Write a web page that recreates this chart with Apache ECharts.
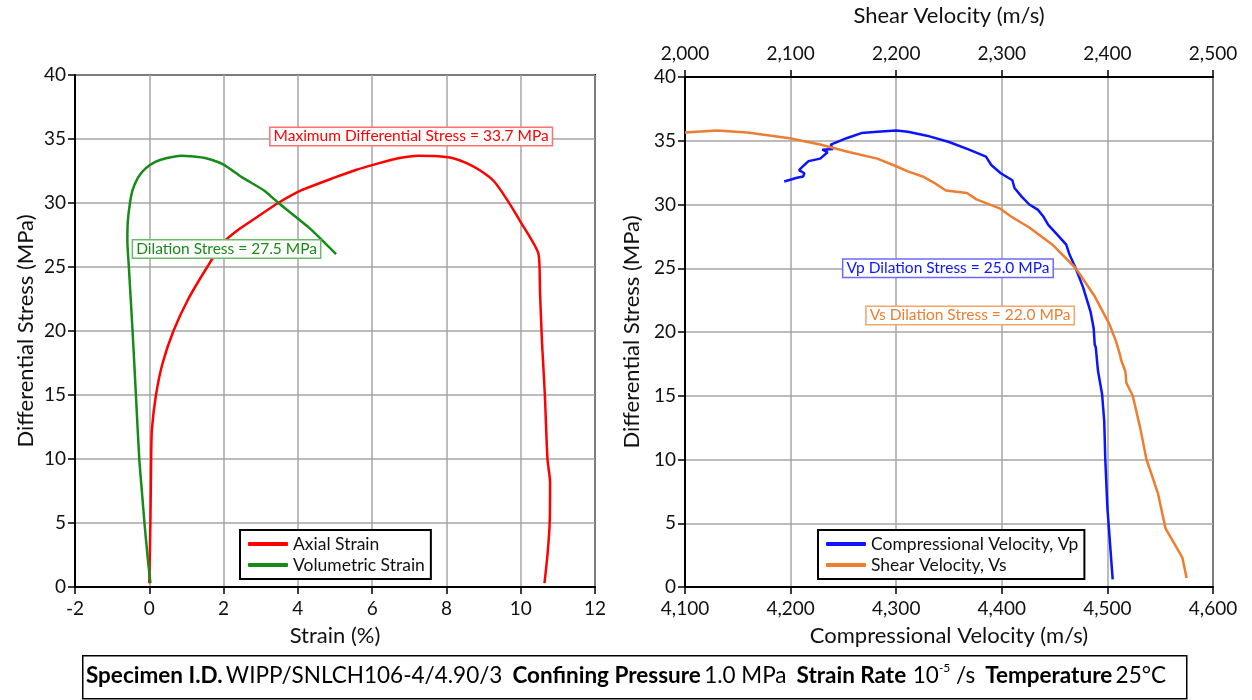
<!DOCTYPE html>
<html><head><meta charset="utf-8">
<script src="https://cdn.jsdelivr.net/npm/echarts@6/dist/echarts.min.js"></script>
<style>html,body{margin:0;padding:0;background:#fff}#c{width:1252px;height:700px}</style>
</head><body><div id="c"></div>
<script>
// ---- Left chart: strain vs differential stress ----
const strainTicks = [-2, 0, 2, 4, 6, 8, 10, 12];
const axialStrain = [0.00,0.03,0.05,0.07,0.18,0.36,0.65,1.05,1.56,1.99,2.44,2.95,3.47,4.10,5.00,5.58,6.05,6.70,7.26,7.69,8.18,8.56,8.93,9.28,9.60,10.00,10.48,10.52,10.57,10.60,10.65,10.72,10.79,10.78,10.72,10.64];
const axialStress = [0.3,5,10,12.3,15,17.5,20,22.5,25,26.9,28,29,30,31,32,32.6,33,33.5,33.7,33.67,33.5,33.1,32.5,31.7,30.4,28.5,26,23,19.3,17.7,15,10,8.2,5,2.5,0.3];
const volStrain = [0.03,-0.05,-0.13,-0.20,-0.27,-0.36,-0.45,-0.55,-0.59,-0.58,-0.52,-0.45,-0.30,-0.10,0.15,0.45,0.86,1.53,2.00,2.50,3.08,3.48,4.33,5.03];
const volStress = [0.3,2.5,5,7.5,10,15,20,25,27,28.5,30,31,32,32.7,33.2,33.5,33.7,33.5,33,32,31,30,28,26];

// ---- Right chart: velocities vs differential stress ----
const vpVelocity = [4194,4206,4212,4213,4208,4213,4217,4228,4235,4230,4240,4238,4253,4267,4282,4300,4311,4329,4350,4369,4385,4390,4399,4410,4412,4419,4426,4434,4439,4444,4454,4461,4464,4470,4477,4484,4487,4488,4489,4491,4495,4497,4498,4500,4505];
const vpStress = [31.8,32.1,32.2,32.45,32.7,33.1,33.4,33.6,34.1,34.3,34.35,34.7,35.2,35.6,35.7,35.8,35.7,35.4,34.9,34.3,33.75,33.1,32.45,31.9,31.3,30.6,30.0,29.6,29.1,28.4,27.5,26.85,26.1,25.0,23.5,21.6,20.3,19.0,18.8,17.0,15.1,13.0,10.0,6.2,0.6];
const vsVelocity = [2000,2030,2059,2099,2128,2156,2182,2200,2211,2225,2236,2247,2267,2276,2298,2308,2326,2348,2370,2388,2402,2408,2412,2413,2417,2418,2424,2431,2437,2442,2448,2455,2462,2471,2475];
const vsStress = [35.65,35.8,35.65,35.2,34.7,34.1,33.6,33.0,32.6,32.2,31.7,31.1,30.9,30.4,29.7,29.1,28.2,26.85,25.0,22.8,20.6,19.3,18.2,17.8,16.9,16.0,15.0,12.5,10.0,8.8,7.3,4.6,3.6,2.3,0.7];

const annotations = {
  maxStress: {text: 'Maximum Differential Stress = 33.7 MPa', at: [7.05, 35.2]},
  dilation: {text: 'Dilation Stress = 27.5 MPa', at: [2.08, 26.4]},
  vpDilation: {text: 'Vp Dilation Stress = 25.0 MPa', at: [4349, 25.0]},
  vsDilation: {text: 'Vs Dilation Stress = 22.0 MPa', at: [2270, 21.3]}
};

const zip = (a, b) => a.map((v, i) => [v, b[i]]);
const FONT = 'Lato';
const fmt = v => Number(v).toLocaleString('en-US');

const gridLine = {show: true, lineStyle: {color: '#a6a6a6', width: 1.5}};
const axisLineBlack = {show: true, onZero: false, lineStyle: {color: '#000', width: 2}};
const tickStyle = {show: true, length: 7, lineStyle: {color: '#000', width: 1.5}};
const labelStyle = {color: '#111', fontSize: 19, fontFamily: FONT};
const nameStyle = {color: '#111', fontSize: 22, fontFamily: FONT};

function note(a, color, border) {
  return {
    symbol: 'rect', symbolSize: 0, silent: true,
    data: [{coord: a.at, value: a.text}],
    label: {
      show: true, position: 'inside', formatter: a.text,
      color: color, fontSize: 15.5, fontFamily: FONT,
      backgroundColor: '#fff', borderColor: border, borderWidth: 1.5,
      padding: [1, 3, 0, 3]
    }
  };
}

const chart = echarts.init(document.getElementById('c'), null, {renderer: 'canvas'});
chart.setOption({
  animation: false,
  backgroundColor: '#fff',
  textStyle: {fontFamily: FONT},
  grid: [
    {left: 75, top: 75, width: 520, height: 512, show: true, borderColor: '#000', borderWidth: 2, backgroundColor: 'transparent'},
    {left: 685, top: 75, width: 528, height: 512, show: true, borderColor: '#000', borderWidth: 2, backgroundColor: 'transparent'}
  ],
  xAxis: [
    {gridIndex: 0, type: 'value', min: strainTicks[0], max: strainTicks[strainTicks.length - 1], interval: 2,
     name: 'Strain (%)', nameLocation: 'middle', nameGap: 38, nameTextStyle: nameStyle,
     axisLine: axisLineBlack, axisTick: tickStyle, axisLabel: Object.assign({margin: 12}, labelStyle),
     splitLine: gridLine},
    {gridIndex: 1, type: 'value', min: 4100, max: 4600, interval: 100, position: 'bottom',
     name: 'Compressional Velocity (m/s)', nameLocation: 'middle', nameGap: 38, nameTextStyle: nameStyle,
     axisLine: axisLineBlack, axisTick: tickStyle, axisLabel: Object.assign({margin: 12, formatter: fmt}, labelStyle),
     splitLine: gridLine},
    {gridIndex: 1, type: 'value', min: 2000, max: 2500, interval: 100, position: 'top',
     name: 'Shear Velocity (m/s)', nameLocation: 'middle', nameGap: 50, nameTextStyle: nameStyle,
     axisLine: axisLineBlack, axisTick: tickStyle, axisLabel: Object.assign({margin: 14, formatter: fmt}, labelStyle),
     splitLine: {show: false}}
  ],
  yAxis: [
    {gridIndex: 0, type: 'value', min: 0, max: 40, interval: 5,
     name: 'Differential Stress (MPa)', nameLocation: 'middle', nameGap: 38, nameTextStyle: nameStyle,
     axisLine: axisLineBlack, axisTick: tickStyle, axisLabel: Object.assign({margin: 9}, labelStyle),
     splitLine: gridLine},
    {gridIndex: 1, type: 'value', min: 0, max: 40, interval: 5,
     name: 'Differential Stress (MPa)', nameLocation: 'middle', nameGap: 42, nameTextStyle: nameStyle,
     axisLine: axisLineBlack, axisTick: tickStyle, axisLabel: Object.assign({margin: 9}, labelStyle),
     splitLine: gridLine}
  ],
  legend: [
    {data: ['Axial Strain', 'Volumetric Strain'], left: 240, top: 530, orient: 'vertical',
     borderColor: '#000', borderWidth: 2, padding: [5, 6, 5, 8], itemGap: 3, itemWidth: 40, itemHeight: 4,
     icon: 'roundRect', textStyle: {fontSize: 17.5, fontFamily: FONT, color: '#111'}, backgroundColor: '#fff'},
    {data: ['Compressional Velocity, Vp', 'Shear Velocity, Vs'], left: 818, top: 530, orient: 'vertical',
     borderColor: '#000', borderWidth: 2, padding: [5, 6, 5, 8], itemGap: 3, itemWidth: 40, itemHeight: 4,
     icon: 'roundRect', textStyle: {fontSize: 17.5, fontFamily: FONT, color: '#111'}, backgroundColor: '#fff'}
  ],
  series: [
    {name: 'Axial Strain', type: 'line', xAxisIndex: 0, yAxisIndex: 0, data: zip(axialStrain, axialStress),
     showSymbol: false, smooth: 0.2, color: '#ff0000', lineStyle: {width: 2.5, color: '#ff0000'},
     markPoint: note(annotations.maxStress, '#ff0000', '#ff7070')},
    {name: 'Volumetric Strain', type: 'line', xAxisIndex: 0, yAxisIndex: 0, data: zip(volStrain, volStress),
     showSymbol: false, smooth: 0.2, color: '#178a17', lineStyle: {width: 2.5, color: '#178a17'},
     markPoint: note(annotations.dilation, '#178a17', '#6cb96c')},
    {name: 'Compressional Velocity, Vp', type: 'line', xAxisIndex: 1, yAxisIndex: 1, data: zip(vpVelocity, vpStress),
     showSymbol: false, color: '#0a14ff', lineStyle: {width: 2.5, color: '#0a14ff'},
     markPoint: note(annotations.vpDilation, '#0a14ff', '#6a6aff')},
    {name: 'Shear Velocity, Vs', type: 'line', xAxisIndex: 2, yAxisIndex: 1, data: zip(vsVelocity, vsStress),
     showSymbol: false, color: '#ed7d31', lineStyle: {width: 2.5, color: '#ed7d31'},
     markPoint: note(annotations.vsDilation, '#ed7d31', '#f3a56a')}
  ],
  graphic: [
    {type: 'rect', left: 82, top: 655, shape: {width: 1104, height: 43}, style: {fill: '#fff', stroke: '#000', lineWidth: 1.5}, z: 10},
    {type: 'text', left: 'center', top: 662, z: 11,
     style: {
       text: '{b|Specimen I.D.} {n|WIPP/SNLCH106-4/4.90/3}   {b|Confining Pressure} {n|1.0 MPa}   {b|Strain Rate}  {n|10}{s|-5}{n| /s}   {b|Temperature} {n|25°C}',
       rich: {
         b: {fontFamily: FONT, fontWeight: 'bold', fontSize: 22.5, fill: '#000', lineHeight: 28},
         n: {fontFamily: FONT, fontSize: 22.5, fill: '#000', lineHeight: 28},
         s: {fontFamily: FONT, fontSize: 12, fill: '#000', verticalAlign: 'top', lineHeight: 28}
       }
     }}
  ]
});
</script>
</body></html>
